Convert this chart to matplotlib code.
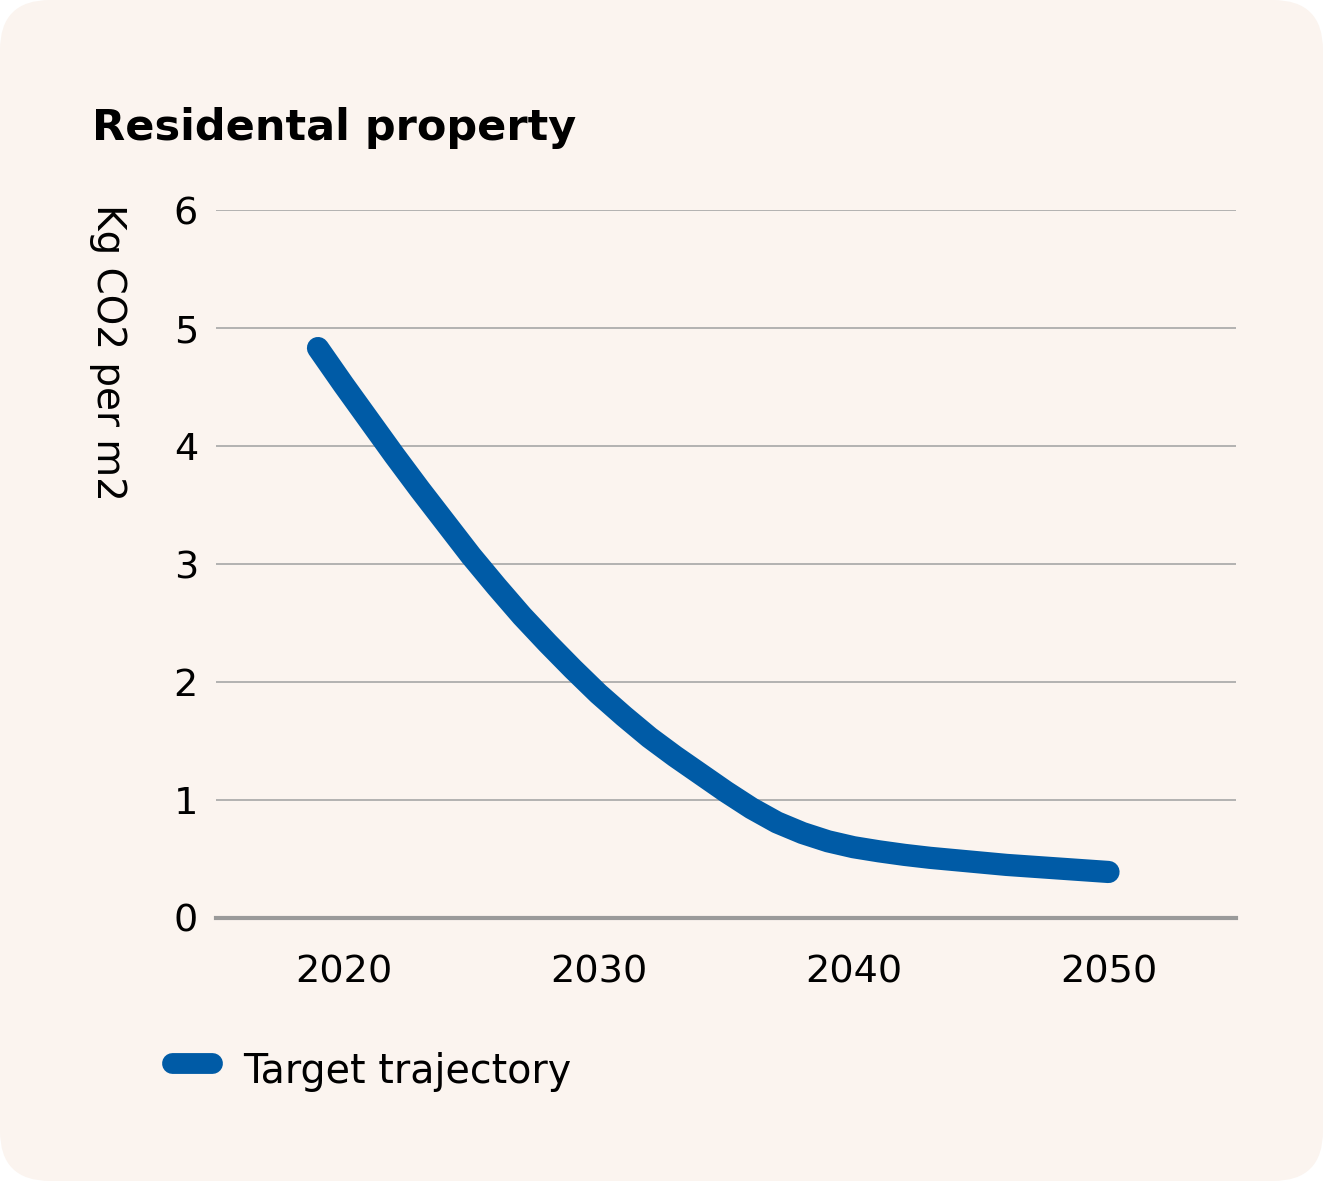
import numpy as np
import matplotlib.pyplot as plt
from matplotlib.patches import FancyBboxPatch
from matplotlib.lines import Line2D

plt.rcParams['font.family'] = ['DejaVu Sans']

# data
years = [2019, 2020, 2021, 2022, 2023, 2024, 2025, 2026, 2027, 2028,
         2029, 2030, 2031, 2032, 2033, 2034, 2035, 2036, 2037, 2038,
         2039, 2040, 2041, 2042, 2043, 2044, 2045, 2046, 2047, 2048,
         2049, 2050]
target = [4.83, 4.52, 4.22, 3.92, 3.63, 3.35, 3.07, 2.81, 2.56, 2.33,
          2.11, 1.90, 1.71, 1.53, 1.37, 1.22, 1.07, 0.93, 0.81, 0.72,
          0.65, 0.60, 0.565, 0.535, 0.51, 0.49, 0.47, 0.45, 0.435, 0.42,
          0.405, 0.39]
xticks = [2020, 2030, 2040, 2050]
yticks = [0, 1, 2, 3, 4, 5, 6]

blue = '#005BA6'
bg = '#FBF4EF'

fig = plt.figure(figsize=(13.23, 11.81), dpi=100)
fig.patch.set_facecolor('white')

# rounded card background
card = FancyBboxPatch((0, 0), 13.23, 11.81,
                      boxstyle='round,pad=0,rounding_size=0.5',
                      transform=fig.dpi_scale_trans,
                      facecolor=bg, edgecolor='none', zorder=-5)
fig.patches.append(card)

ax = fig.add_axes([216 / 1323, 263 / 1181, 1020 / 1323, 708 / 1181])
ax.set_zorder(2)
ax.set_facecolor('none')

ax.plot(years, target, color=blue, lw=16, solid_capstyle='round',
        solid_joinstyle='round', clip_on=False, zorder=3)

ax.set_xlim(2015, 2055)
ax.set_ylim(0, 6)
ax.set_xticks(xticks)
ax.set_yticks(yticks)
ax.tick_params(length=0, labelsize=27.5, colors='black')
ax.tick_params(axis='x', pad=26)
ax.tick_params(axis='y', pad=13)

for y in yticks[1:]:
    ax.axhline(y, color='#A6A6A6', lw=1.2, zorder=1)
ax.axhline(0, color='#9A9A9A', lw=3, zorder=1, clip_on=False)

for s in ax.spines.values():
    s.set_visible(False)

fig.text(92 / 1323, 1 - 140 / 1181, 'Residental property', fontsize=31,
         fontweight='bold', ha='left', va='baseline')

fig.text(108 / 1323, 1 - 352 / 1181, 'Kg CO2 per m2', fontsize=28,
         rotation=-90, ha='center', va='center')

# legend
leg_line = Line2D([172 / 1323, 212 / 1323], [1 - 1063 / 1181, 1 - 1063 / 1181],
                  transform=fig.transFigure, color=blue, lw=15,
                  solid_capstyle='round')
fig.lines.append(leg_line)
fig.text(243 / 1323, 1 - 1083 / 1181, 'Target trajectory', fontsize=28.5,
         ha='left', va='baseline')

fig.savefig('out.png', dpi=100, facecolor='white')
